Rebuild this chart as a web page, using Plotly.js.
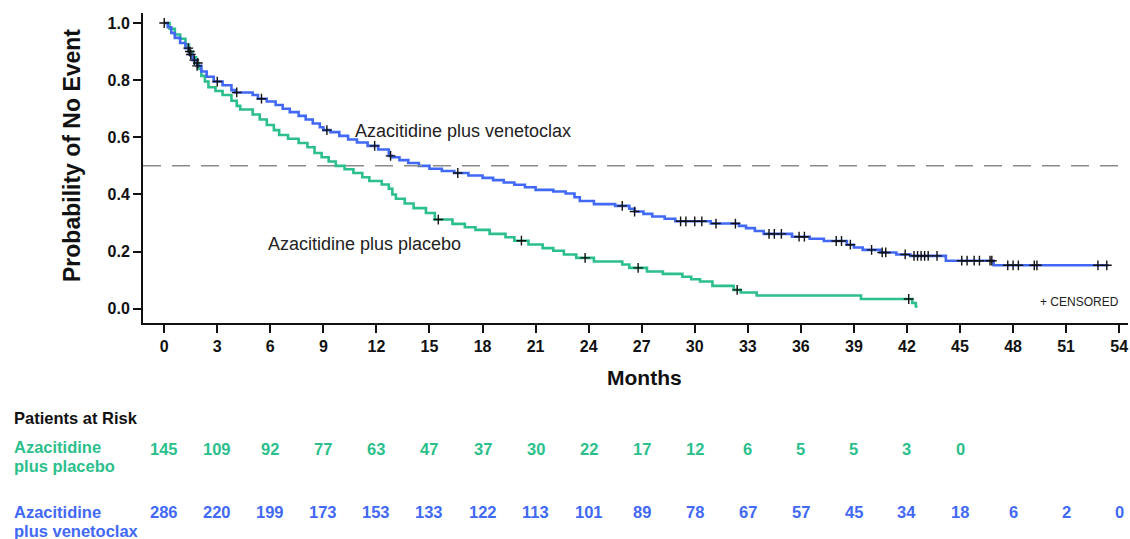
<!DOCTYPE html>
<html>
<head>
<meta charset="utf-8">
<script src="https://cdn.plot.ly/plotly-3.0.1.min.js"></script>
<style>
  html, body { margin: 0; padding: 0; background: #fff; }
  #chart { width: 1130px; height: 539px; }
</style>
</head>
<body>
<div id="chart"></div>
<script>
// ---- Data ----
const venTimes = [0,0.2,0.4,0.6,0.9,1.2,1.4,1.6,1.85,2.1,2.4,2.8,3.3,3.8,4.0,5.0,5.3,5.8,6.3,6.7,7.1,7.6,8.0,8.4,8.8,9.0,9.4,9.9,10.4,10.9,11.5,12.1,12.7,12.9,13.3,13.8,14.4,15.0,15.7,16.4,17.2,18.0,18.6,19.2,19.8,20.4,21.0,22.0,22.7,23.2,23.5,24.3,25.5,26.3,26.6,27.1,27.6,28.3,28.9,30.9,32.5,32.9,33.4,33.9,35.5,36.5,37.3,38.6,39.0,39.5,40.5,41.4,42.2,44.2,46.9,53.4];
const venSurv  = [1.0,0.985,0.965,0.948,0.93,0.912,0.89,0.87,0.85,0.83,0.812,0.795,0.782,0.765,0.757,0.748,0.735,0.725,0.713,0.7,0.688,0.675,0.662,0.648,0.635,0.625,0.618,0.605,0.592,0.582,0.57,0.557,0.535,0.53,0.52,0.51,0.5,0.49,0.482,0.475,0.466,0.458,0.45,0.442,0.434,0.425,0.416,0.41,0.403,0.39,0.377,0.366,0.36,0.35,0.34,0.332,0.323,0.315,0.306,0.298,0.29,0.282,0.272,0.262,0.252,0.245,0.237,0.224,0.214,0.206,0.197,0.19,0.185,0.168,0.152,0.152];
const venCensor = [0,1.36,1.5,1.7,1.86,3.0,4.1,5.5,9.2,11.9,12.8,16.6,25.9,26.6,29.2,29.5,30.0,30.4,31.2,32.3,34.2,34.5,34.9,35.9,36.2,38.0,38.3,38.8,40.0,40.6,40.8,41.9,42.4,42.6,42.8,43.0,43.2,43.7,45.1,45.4,45.8,46.1,46.7,46.8,47.7,48.0,48.3,49.2,49.35,52.8,53.3];

const plaTimes = [0,0.3,0.6,0.9,1.2,1.4,1.6,1.8,1.95,2.1,2.3,2.5,2.9,3.3,3.8,4.1,4.3,5.0,5.4,5.8,6.2,6.5,7.0,7.6,8.1,8.5,8.9,9.3,9.7,10.2,10.7,11.2,11.6,12.3,12.7,12.9,13.1,13.6,14.1,14.8,15.3,16.3,17.0,17.6,18.4,19.3,19.8,20.6,21.4,22.0,22.6,23.3,24.3,25.9,26.3,27.3,28.2,29.3,29.8,30.3,31.0,32.2,32.6,33.5,39.4,42.3,42.5,42.6];
const plaSurv  = [1.0,0.98,0.96,0.945,0.925,0.9,0.88,0.86,0.84,0.815,0.795,0.775,0.762,0.748,0.728,0.71,0.697,0.68,0.662,0.643,0.625,0.608,0.595,0.58,0.565,0.545,0.53,0.515,0.5,0.488,0.475,0.46,0.447,0.435,0.42,0.4,0.385,0.368,0.352,0.335,0.312,0.297,0.285,0.276,0.262,0.25,0.238,0.225,0.212,0.203,0.19,0.178,0.165,0.155,0.143,0.13,0.122,0.112,0.103,0.095,0.08,0.066,0.057,0.046,0.034,0.02,0.008,0.008];
const plaCensor = [1.45,1.9,15.5,20.2,23.8,26.8,32.4,42.1];

const atRiskMonths = [0,3,6,9,12,15,18,21,24,27,30,33,36,39,42,45,48,51,54];
const placeboAtRisk = [145,109,92,77,63,47,37,30,22,17,12,6,5,5,3,0];
const venAtRisk = [286,220,199,173,153,133,122,113,101,89,78,67,57,45,34,18,6,2,0];

const xTicks = [0,3,6,9,12,15,18,21,24,27,30,33,36,39,42,45,48,51,54];
const yTicks = [0,0.2,0.4,0.6,0.8,1.0];

// ---- Styles ----
const GREEN = '#2bbf8c';
const BLUE = '#4169f5';
const FONT = 'Liberation Sans, Arial, sans-serif';

function survAt(times, surv, t) {
  let v = surv[0];
  for (let i = 0; i < times.length; i++) { if (times[i] <= t) v = surv[i]; else break; }
  return v;
}

const censorMarker = { symbol: 'cross-thin', size: 7, line: { color: '#111', width: 1.4 } };
const traces = [
  { x: plaTimes, y: plaSurv, mode: 'lines', line: { shape: 'hv', color: GREEN, width: 2.6 }, hoverinfo: 'skip', showlegend: false },
  { x: venTimes, y: venSurv, mode: 'lines', line: { shape: 'hv', color: BLUE, width: 2.6 }, hoverinfo: 'skip', showlegend: false },
  { x: plaCensor, y: plaCensor.map(t => survAt(plaTimes, plaSurv, t)), mode: 'markers', marker: censorMarker, showlegend: false },
  { x: venCensor, y: venCensor.map(t => survAt(venTimes, venSurv, t)), mode: 'markers', marker: censorMarker, showlegend: false }
];

function txt(x, y, xref, yref, text, size, color, bold, xanchor, extra) {
  return Object.assign({
    x: x, y: y, xref: xref, yref: yref, text: text, showarrow: false,
    xanchor: xanchor || 'left', yanchor: 'middle',
    font: { family: FONT, size: size, color: color, weight: bold ? 'bold' : 'normal' }
  }, extra || {});
}

const LX = -0.133;
const annotations = [
  txt(10.7, 0.622, 'x', 'y', 'Azacitidine plus venetoclax', 18, '#222', false),
  txt(5.76, 0.227, 'x', 'y', 'Azacitidine plus placebo', 18, '#222', false),
  txt(54.1, 0.024, 'x', 'y', '+ CENSORED', 12, '#222', false, 'right'),
  txt(0.509, -0.177, 'paper', 'paper', 'Months', 21, '#111', true, 'center'),
  txt(-0.072, 0.539, 'paper', 'paper', 'Probability of No Event', 23, '#111', true, 'center', { textangle: -90 }),
  txt(LX, -0.306, 'paper', 'paper', 'Patients at Risk', 16.5, '#111', true),
  txt(LX, -0.400, 'paper', 'paper', 'Azacitidine', 16.5, GREEN, true),
  txt(LX, -0.461, 'paper', 'paper', 'plus placebo', 16.5, GREEN, true),
  txt(LX, -0.610, 'paper', 'paper', 'Azacitidine', 16.5, BLUE, true),
  txt(LX, -0.671, 'paper', 'paper', 'plus venetoclax', 16.5, BLUE, true)
];
placeboAtRisk.forEach((n, i) => annotations.push(
  txt(atRiskMonths[i], -0.406, 'x', 'paper', String(n), 16.5, GREEN, true, 'center')));
venAtRisk.forEach((n, i) => annotations.push(
  txt(atRiskMonths[i], -0.61, 'x', 'paper', String(n), 16.5, BLUE, true, 'center')));

const layout = {
  width: 1130, height: 539,
  margin: { l: 143, r: 2, t: 13, b: 216 },
  paper_bgcolor: '#fff', plot_bgcolor: '#fff',
  font: { family: FONT },
  xaxis: {
    range: [-1.2, 54.5], tickvals: xTicks, ticktext: xTicks.map(String),
    showgrid: false, zeroline: false, showline: true, linecolor: '#111', linewidth: 2,
    ticks: 'outside', ticklen: 8, tickwidth: 2, tickcolor: '#111',
    tickfont: { family: FONT, size: 16, color: '#111', weight: 'bold' }
  },
  yaxis: {
    range: [-0.05, 1.035], tickvals: yTicks, tickformat: '.1f',
    showgrid: false, zeroline: false, showline: true, linecolor: '#111', linewidth: 2,
    ticks: 'outside', ticklen: 8, tickwidth: 2, tickcolor: '#111',
    tickfont: { family: FONT, size: 16, color: '#111', weight: 'bold' }
  },
  shapes: [
    { type: 'line', xref: 'paper', yref: 'y', x0: 0, x1: 1, y0: 0.5, y1: 0.5,
      line: { color: '#8a8a8a', width: 1.5, dash: '18px,11px' } }
  ],
  annotations: annotations,
  showlegend: false
};

Plotly.newPlot('chart', traces, layout, { staticPlot: true, displayModeBar: false });
</script>
</body>
</html>
